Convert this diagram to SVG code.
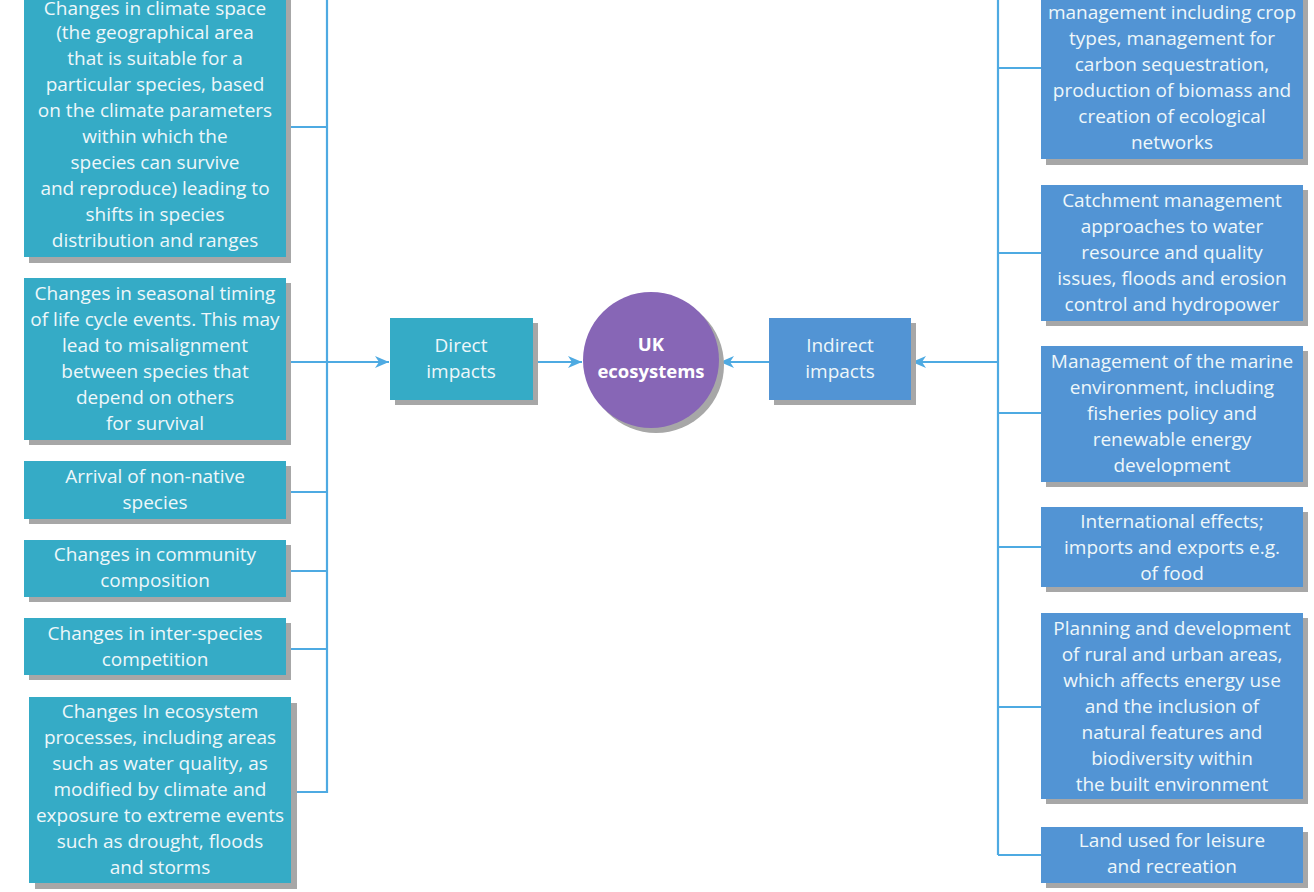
<svg xmlns="http://www.w3.org/2000/svg" width="1314" height="892" viewBox="0 0 1314 892">
<style>
.sh{fill:#a7a7a7}
.t{fill:#35abc6}
.b{fill:#5294d4}
.txt{font-family:"Open Sans","Noto Sans",sans-serif;font-size:19px;fill:#eef7fa;text-anchor:middle}
.bold{font-weight:bold;fill:#ffffff;font-size:18.5px}
.c{stroke:#4eaae2;stroke-width:2.2;fill:none}
</style>
<defs>
<marker id="ah" viewBox="0 0 14 12" refX="14" refY="6" markerWidth="14" markerHeight="12" markerUnits="userSpaceOnUse" orient="auto">
<path d="M0,0 L14,6 L0,12 L4,6 Z" fill="#4eaae2"/>
</marker>
</defs>
<g id="connectors">
<path class="c" d="M327,-2 V793"/>
<path class="c" d="M286,127 H327 M286,492 H327 M286,571 H327 M286,649 H327 M291,792 H327"/>
<path class="c" d="M286,362 H389" marker-end="url(#ah)"/>
<path class="c" d="M533,362 H582" marker-end="url(#ah)"/>
<path class="c" d="M998,-2 V855"/>
<path class="c" d="M998,68 H1041 M998,253 H1041 M998,413 H1041 M998,547 H1041 M998,707 H1041 M998,855 H1041"/>
<path class="c" d="M998,362 H912" marker-end="url(#ah)"/>
<path class="c" d="M769,362 H720" marker-end="url(#ah)"/>
</g>
<g id="l1"><rect class="sh" x="29" y="-20" width="262" height="283"/><rect class="t" x="24" y="-25" width="262" height="282"/>
<text class="txt"><tspan x="155" y="15">Changes in climate space</tspan><tspan x="155" y="39">(the geographical area</tspan><tspan x="155" y="65">that is suitable for a</tspan><tspan x="155" y="91">particular species, based</tspan><tspan x="155" y="117">on the climate parameters</tspan><tspan x="155" y="143">within which the</tspan><tspan x="155" y="169">species can survive</tspan><tspan x="155" y="195">and reproduce) leading to</tspan><tspan x="155" y="221">shifts in species</tspan><tspan x="155" y="247">distribution and ranges</tspan></text></g>
<g id="l2"><rect class="sh" x="29" y="283" width="262" height="162"/><rect class="t" x="24" y="278" width="262" height="162"/>
<text class="txt"><tspan x="155" y="300">Changes in seasonal timing</tspan><tspan x="155" y="326">of life cycle events. This may</tspan><tspan x="155" y="352">lead to misalignment</tspan><tspan x="155" y="378">between species that</tspan><tspan x="155" y="404">depend on others</tspan><tspan x="155" y="430">for survival</tspan></text></g>
<g id="l3"><rect class="sh" x="29" y="466" width="262" height="58"/><rect class="t" x="24" y="461" width="262" height="58"/>
<text class="txt"><tspan x="155" y="483">Arrival of non-native</tspan><tspan x="155" y="509">species</tspan></text></g>
<g id="l4"><rect class="sh" x="29" y="545" width="262" height="57"/><rect class="t" x="24" y="540" width="262" height="57"/>
<text class="txt"><tspan x="155" y="561">Changes in community</tspan><tspan x="155" y="587">composition</tspan></text></g>
<g id="l5"><rect class="sh" x="29" y="623" width="262" height="57"/><rect class="t" x="24" y="618" width="262" height="57"/>
<text class="txt"><tspan x="155" y="640">Changes in inter-species</tspan><tspan x="155" y="666">competition</tspan></text></g>
<g id="l6"><rect class="sh" x="35" y="703" width="262" height="186"/><rect class="t" x="29" y="697" width="262" height="186"/>
<text class="txt"><tspan x="160" y="718">Changes In ecosystem</tspan><tspan x="160" y="744">processes, including areas</tspan><tspan x="160" y="770">such as water quality, as</tspan><tspan x="160" y="796">modified by climate and</tspan><tspan x="160" y="822">exposure to extreme events</tspan><tspan x="160" y="848">such as drought, floods</tspan><tspan x="160" y="874">and storms</tspan></text></g>
<g id="direct"><rect class="sh" x="395" y="323" width="143" height="82"/><rect class="t" x="390" y="318" width="143" height="82"/>
<text class="txt"><tspan x="461" y="352">Direct</tspan><tspan x="461" y="378">impacts</tspan></text></g>
<g id="uk"><circle cx="656" cy="365" r="68" fill="#a7a7a7"/><circle cx="651" cy="360" r="68" fill="#8766b6"/>
<text class="txt bold"><tspan x="651" y="351">UK</tspan><tspan x="651" y="378">ecosystems</tspan></text></g>
<g id="indirect"><rect class="sh" x="774" y="323" width="142" height="82"/><rect class="b" x="769" y="318" width="142" height="82"/>
<text class="txt"><tspan x="840" y="352">Indirect</tspan><tspan x="840" y="378">impacts</tspan></text></g>
<g id="r1"><rect class="sh" x="1046" y="-20" width="262" height="185"/><rect class="b" x="1041" y="-25" width="262" height="184"/>
<text class="txt"><tspan x="1172" y="19">management including crop</tspan><tspan x="1172" y="45">types, management for</tspan><tspan x="1172" y="71">carbon sequestration,</tspan><tspan x="1172" y="97">production of biomass and</tspan><tspan x="1172" y="123">creation of ecological</tspan><tspan x="1172" y="149">networks</tspan></text></g>
<g id="r2"><rect class="sh" x="1046" y="190" width="262" height="136"/><rect class="b" x="1041" y="185" width="262" height="136"/>
<text class="txt"><tspan x="1172" y="207">Catchment management</tspan><tspan x="1172" y="233">approaches to water</tspan><tspan x="1172" y="259">resource and quality</tspan><tspan x="1172" y="285">issues, floods and erosion</tspan><tspan x="1172" y="311">control and hydropower</tspan></text></g>
<g id="r3"><rect class="sh" x="1046" y="351" width="262" height="136"/><rect class="b" x="1041" y="346" width="262" height="136"/>
<text class="txt"><tspan x="1172" y="368">Management of the marine</tspan><tspan x="1172" y="394">environment, including</tspan><tspan x="1172" y="420">fisheries policy and</tspan><tspan x="1172" y="446">renewable energy</tspan><tspan x="1172" y="472">development</tspan></text></g>
<g id="r4"><rect class="sh" x="1046" y="512" width="262" height="80"/><rect class="b" x="1041" y="507" width="262" height="80"/>
<text class="txt"><tspan x="1172" y="528">International effects;</tspan><tspan x="1172" y="554">imports and exports e.g.</tspan><tspan x="1172" y="580">of food</tspan></text></g>
<g id="r5"><rect class="sh" x="1046" y="618" width="262" height="186"/><rect class="b" x="1041" y="613" width="262" height="186"/>
<text class="txt"><tspan x="1172" y="635">Planning and development</tspan><tspan x="1172" y="661">of rural and urban areas,</tspan><tspan x="1172" y="687">which affects energy use</tspan><tspan x="1172" y="713">and the inclusion of</tspan><tspan x="1172" y="739">natural features and</tspan><tspan x="1172" y="765">biodiversity within</tspan><tspan x="1172" y="791">the built environment</tspan></text></g>
<g id="r6"><rect class="sh" x="1046" y="832" width="262" height="56"/><rect class="b" x="1041" y="827" width="262" height="56"/>
<text class="txt"><tspan x="1172" y="847">Land used for leisure</tspan><tspan x="1172" y="873">and recreation</tspan></text></g>
</svg>
